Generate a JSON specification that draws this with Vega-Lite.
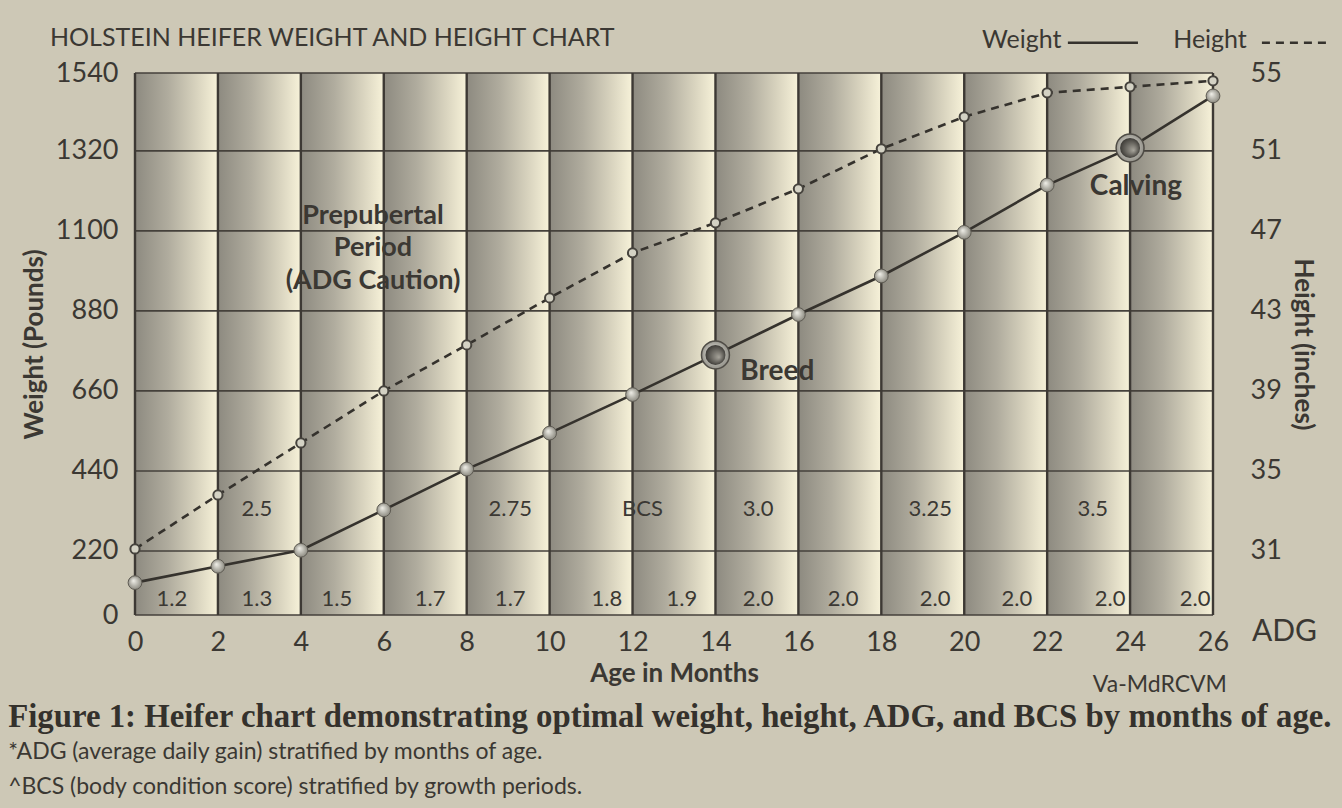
{
  "$schema": "https://vega.github.io/schema/vega-lite/v6.json",
  "width": 1078,
  "height": 542,
  "autosize": {"type": "none"},
  "padding": {"left": 135, "top": 73, "right": 129, "bottom": 193},
  "background": "#cdc8b6",
  "config": {
    "view": {"stroke": null},
    "font": "Lato",
    "axis": {"labelFont": "Lato", "titleFont": "Lato", "labelColor": "#3b3833", "titleColor": "#3b3833"}
  },
  "datasets": {
    "columns": [
      {"start": 0, "end": 2}, {"start": 2, "end": 4}, {"start": 4, "end": 6}, {"start": 6, "end": 8},
      {"start": 8, "end": 10}, {"start": 10, "end": 12}, {"start": 12, "end": 14}, {"start": 14, "end": 16},
      {"start": 16, "end": 18}, {"start": 18, "end": 20}, {"start": 20, "end": 22}, {"start": 22, "end": 24},
      {"start": 24, "end": 26}
    ],
    "vlines": [
      {"month": 0}, {"month": 2}, {"month": 4}, {"month": 6}, {"month": 8}, {"month": 10}, {"month": 12},
      {"month": 14}, {"month": 16}, {"month": 18}, {"month": 20}, {"month": 22}, {"month": 24}, {"month": 26}
    ],
    "hlines": [
      {"weight": 44}, {"weight": 220}, {"weight": 440}, {"weight": 660}, {"weight": 880},
      {"weight": 1100}, {"weight": 1320}, {"weight": 1534}
    ],
    "growth": [
      {"month": 0, "weight": 133, "height": 31.1, "event": ""},
      {"month": 2, "weight": 178, "height": 33.8, "event": ""},
      {"month": 4, "weight": 222, "height": 36.4, "event": ""},
      {"month": 6, "weight": 333, "height": 39.0, "event": ""},
      {"month": 8, "weight": 445, "height": 41.3, "event": ""},
      {"month": 10, "weight": 544, "height": 43.65, "event": ""},
      {"month": 12, "weight": 650, "height": 45.9, "event": ""},
      {"month": 14, "weight": 759, "height": 47.4, "event": "Breed"},
      {"month": 16, "weight": 870, "height": 49.1, "event": ""},
      {"month": 18, "weight": 976, "height": 51.1, "event": ""},
      {"month": 20, "weight": 1096, "height": 52.7, "event": ""},
      {"month": 22, "weight": 1226, "height": 53.9, "event": ""},
      {"month": 24, "weight": 1328, "height": 54.2, "event": "Calving"},
      {"month": 26, "weight": 1471, "height": 54.5, "event": ""}
    ],
    "adg": [
      {"month": 0.89, "weight": 88, "label": "1.2"},
      {"month": 2.94, "weight": 88, "label": "1.3"},
      {"month": 4.87, "weight": 88, "label": "1.5"},
      {"month": 7.12, "weight": 88, "label": "1.7"},
      {"month": 9.05, "weight": 88, "label": "1.7"},
      {"month": 11.38, "weight": 88, "label": "1.8"},
      {"month": 13.19, "weight": 88, "label": "1.9"},
      {"month": 15.03, "weight": 88, "label": "2.0"},
      {"month": 17.08, "weight": 88, "label": "2.0"},
      {"month": 19.3, "weight": 88, "label": "2.0"},
      {"month": 21.27, "weight": 88, "label": "2.0"},
      {"month": 23.52, "weight": 88, "label": "2.0"},
      {"month": 25.57, "weight": 88, "label": "2.0"}
    ],
    "bcs": [
      {"month": 2.94, "weight": 335, "label": "2.5"},
      {"month": 9.05, "weight": 335, "label": "2.75"},
      {"month": 12.24, "weight": 335, "label": "BCS"},
      {"month": 15.03, "weight": 335, "label": "3.0"},
      {"month": 19.18, "weight": 335, "label": "3.25"},
      {"month": 23.1, "weight": 335, "label": "3.5"}
    ],
    "periodNote": [
      {"month": 5.74, "weight": 1140, "text": "Prepubertal"},
      {"month": 5.74, "weight": 1053, "text": "Period"},
      {"month": 5.74, "weight": 963, "text": "(ADG Caution)"}
    ],
    "eventNotes": [
      {"month": 14.6, "weight": 712, "text": "Breed"},
      {"month": 23.03, "weight": 1221, "text": "Calving"}
    ],
    "heading": [
      {"month": -2.05, "weight": 1631, "text": "HOLSTEIN HEIFER WEIGHT AND HEIGHT CHART"}
    ],
    "legendText": [
      {"month": 20.43, "weight": 1625, "text": "Weight"},
      {"month": 25.04, "weight": 1625, "text": "Height"}
    ],
    "legendWeight": [{"from": 22.5, "to": 24.19, "weight": 1617}],
    "legendHeight": [{"from": 27.18, "to": 28.77, "weight": 1617}],
    "adgTag": [{"month": 26.94, "weight": -3, "text": "ADG"}],
    "source": [{"month": 24.72, "weight": -148, "text": "Va-MdRCVM"}],
    "caption": [
      {"month": -3.06, "weight": -236, "text": "Figure 1:  Heifer chart demonstrating optimal weight, height, ADG, and BCS by months of age."}
    ],
    "footnotes": [
      {"month": -3.06, "weight": -333, "text": "*ADG (average daily gain) stratified by months of age."},
      {"month": -3.06, "weight": -429, "text": "^BCS (body condition score) stratified by growth periods."}
    ]
  },
  "layer": [
    {
      "layer": [
        {
          "data": {"name": "columns"},
          "mark": {
            "type": "rect",
            "fill": {
              "gradient": "linear", "x1": 0, "y1": 0, "x2": 1, "y2": 0,
              "stops": [
                {"offset": 0, "color": "#8d8a80"},
                {"offset": 0.4, "color": "#b0ac9e"},
                {"offset": 0.75, "color": "#d9d4bf"},
                {"offset": 1, "color": "#f7f2d9"}
              ]
            }
          },
          "encoding": {
            "x": {"field": "start", "type": "quantitative", "scale": {"domain": [0, 26], "nice": false, "zero": false}},
            "x2": {"field": "end"},
            "y": {"datum": 44, "type": "quantitative", "scale": {"domain": [44, 1534], "nice": false, "zero": false}},
            "y2": {"datum": 1534}
          }
        },
        {
          "data": {"name": "hlines"},
          "mark": {"type": "rule", "color": "#45413b", "strokeWidth": 1.6},
          "encoding": {
            "y": {"field": "weight", "type": "quantitative"}
          }
        },
        {
          "data": {"name": "vlines"},
          "mark": {"type": "rule", "color": "#3d3934", "strokeWidth": 2.4},
          "encoding": {
            "x": {"field": "month", "type": "quantitative"}
          }
        },
        {
          "data": {"name": "adg"},
          "mark": {"type": "text", "fontSize": 22, "color": "#3b3833", "align": "center", "baseline": "middle"},
          "encoding": {
            "x": {"field": "month", "type": "quantitative"},
            "y": {"field": "weight", "type": "quantitative"},
            "text": {"field": "label"}
          }
        },
        {
          "data": {"name": "bcs"},
          "mark": {"type": "text", "fontSize": 22, "color": "#3b3833", "align": "center", "baseline": "middle"},
          "encoding": {
            "x": {"field": "month", "type": "quantitative"},
            "y": {"field": "weight", "type": "quantitative"},
            "text": {"field": "label"}
          }
        },
        {
          "data": {"name": "periodNote"},
          "mark": {"type": "text", "fontSize": 27, "fontWeight": "bold", "color": "#3b3833", "align": "center", "baseline": "middle"},
          "encoding": {
            "x": {"field": "month", "type": "quantitative"},
            "y": {"field": "weight", "type": "quantitative"},
            "text": {"field": "text"}
          }
        },
        {
          "data": {"name": "eventNotes"},
          "mark": {"type": "text", "fontSize": 28, "fontWeight": "bold", "color": "#3b3833", "align": "left", "baseline": "middle"},
          "encoding": {
            "x": {"field": "month", "type": "quantitative"},
            "y": {"field": "weight", "type": "quantitative"},
            "text": {"field": "text"}
          }
        },
        {
          "data": {"name": "growth"},
          "mark": {"type": "line", "color": "#35322d", "strokeWidth": 2.6},
          "encoding": {
            "x": {
              "field": "month", "type": "quantitative",
              "axis": {
                "values": [0, 2, 4, 6, 8, 10, 12, 14, 16, 18, 20, 22, 24, 26],
                "labelFontSize": 27, "labelPadding": 14, "labelFlush": false,
                "ticks": false, "domain": false, "grid": false,
                "title": "Age in Months", "titleFontSize": 26, "titleFontWeight": "bold", "titlePadding": 5
              }
            },
            "y": {
              "field": "weight", "type": "quantitative",
              "axis": {
                "values": [44, 220, 440, 660, 880, 1100, 1320, 1534],
                "labelExpr": "datum.value < 100 ? '0' : datum.value > 1500 ? '1540' : format(datum.value, 'd')",
                "labelFontSize": 27, "labelPadding": 17, "labelFlush": false,
                "ticks": false, "domain": false, "grid": false,
                "title": "Weight (Pounds)", "titleFontSize": 26, "titleFontWeight": "bold", "titlePadding": 8
              }
            }
          }
        },
        {
          "data": {"name": "growth"},
          "transform": [{"filter": "datum.event == ''"}],
          "mark": {
            "type": "circle", "size": 190, "opacity": 1, "stroke": "#5e5b53", "strokeWidth": 1,
            "fill": {
              "gradient": "radial", "x1": 0.38, "y1": 0.35, "r1": 0, "x2": 0.5, "y2": 0.5, "r2": 0.55,
              "stops": [{"offset": 0, "color": "#f2f1ea"}, {"offset": 1, "color": "#858379"}]
            }
          },
          "encoding": {
            "x": {"field": "month", "type": "quantitative"},
            "y": {"field": "weight", "type": "quantitative"}
          }
        },
        {
          "data": {"name": "growth"},
          "transform": [{"filter": "datum.event != ''"}],
          "mark": {
            "type": "circle", "size": 780, "opacity": 1, "stroke": "#4f4c46", "strokeWidth": 1.5,
            "fill": {
              "gradient": "radial", "x1": 0.4, "y1": 0.4, "r1": 0, "x2": 0.5, "y2": 0.5, "r2": 0.55,
              "stops": [{"offset": 0, "color": "#ecebe4"}, {"offset": 1, "color": "#8d8b83"}]
            }
          },
          "encoding": {
            "x": {"field": "month", "type": "quantitative"},
            "y": {"field": "weight", "type": "quantitative"}
          }
        },
        {
          "data": {"name": "growth"},
          "transform": [{"filter": "datum.event != ''"}],
          "mark": {
            "type": "circle", "size": 400, "opacity": 1,
            "fill": {
              "gradient": "radial", "x1": 0.68, "y1": 0.62, "r1": 0, "x2": 0.5, "y2": 0.5, "r2": 0.55,
              "stops": [{"offset": 0, "color": "#a8a59c"}, {"offset": 1, "color": "#35332f"}]
            }
          },
          "encoding": {
            "x": {"field": "month", "type": "quantitative"},
            "y": {"field": "weight", "type": "quantitative"}
          }
        },
        {
          "data": {"name": "heading"},
          "mark": {"type": "text", "fontSize": 25, "color": "#3b3833", "align": "left", "baseline": "middle"},
          "encoding": {
            "x": {"field": "month", "type": "quantitative"},
            "y": {"field": "weight", "type": "quantitative"},
            "text": {"field": "text"}
          }
        },
        {
          "data": {"name": "legendText"},
          "mark": {"type": "text", "fontSize": 25, "color": "#3b3833", "align": "left", "baseline": "middle"},
          "encoding": {
            "x": {"field": "month", "type": "quantitative"},
            "y": {"field": "weight", "type": "quantitative"},
            "text": {"field": "text"}
          }
        },
        {
          "data": {"name": "legendWeight"},
          "mark": {"type": "rule", "color": "#35322d", "strokeWidth": 2.6},
          "encoding": {
            "x": {"field": "from", "type": "quantitative"},
            "x2": {"field": "to"},
            "y": {"field": "weight", "type": "quantitative"}
          }
        },
        {
          "data": {"name": "legendHeight"},
          "mark": {"type": "rule", "color": "#35322d", "strokeWidth": 2.6, "strokeDash": [8, 6]},
          "encoding": {
            "x": {"field": "from", "type": "quantitative"},
            "x2": {"field": "to"},
            "y": {"field": "weight", "type": "quantitative"}
          }
        },
        {
          "data": {"name": "adgTag"},
          "mark": {"type": "text", "fontSize": 30, "color": "#3b3833", "align": "left", "baseline": "middle"},
          "encoding": {
            "x": {"field": "month", "type": "quantitative"},
            "y": {"field": "weight", "type": "quantitative"},
            "text": {"field": "text"}
          }
        },
        {
          "data": {"name": "source"},
          "mark": {"type": "text", "fontSize": 23, "color": "#3b3833", "align": "center", "baseline": "middle"},
          "encoding": {
            "x": {"field": "month", "type": "quantitative"},
            "y": {"field": "weight", "type": "quantitative"},
            "text": {"field": "text"}
          }
        },
        {
          "data": {"name": "caption"},
          "mark": {"type": "text", "font": "Liberation Serif", "fontSize": 32.8, "fontWeight": "bold", "color": "#34312c", "align": "left", "baseline": "middle"},
          "encoding": {
            "x": {"field": "month", "type": "quantitative"},
            "y": {"field": "weight", "type": "quantitative"},
            "text": {"field": "text"}
          }
        },
        {
          "data": {"name": "footnotes"},
          "mark": {"type": "text", "fontSize": 23, "color": "#3b3833", "align": "left", "baseline": "middle"},
          "encoding": {
            "x": {"field": "month", "type": "quantitative"},
            "y": {"field": "weight", "type": "quantitative"},
            "text": {"field": "text"}
          }
        }
      ]
    },
    {
      "data": {"name": "growth"},
      "layer": [
        {
          "mark": {"type": "line", "color": "#35322d", "strokeWidth": 2.6, "strokeDash": [8, 6]},
          "encoding": {
            "x": {"field": "month", "type": "quantitative"},
            "y": {
              "field": "height", "type": "quantitative",
              "scale": {"domain": [27.8, 54.89], "nice": false, "zero": false},
              "axis": {
                "orient": "right",
                "values": [31, 35, 39, 43, 47, 51, 54.89],
                "labelExpr": "datum.value > 54 ? '55' : format(datum.value, 'd')",
                "labelFontSize": 27, "labelPadding": 37, "labelFlush": false,
                "ticks": false, "domain": false, "grid": false,
                "title": "Height (inches)", "titleFontSize": 26, "titleFontWeight": "bold", "titlePadding": 8
              }
            }
          }
        },
        {
          "mark": {"type": "circle", "size": 85, "opacity": 1, "fill": "#d4d2c4", "stroke": "#46433d", "strokeWidth": 2},
          "encoding": {
            "x": {"field": "month", "type": "quantitative"},
            "y": {"field": "height", "type": "quantitative"}
          }
        }
      ]
    }
  ],
  "resolve": {"scale": {"y": "independent"}}
}
